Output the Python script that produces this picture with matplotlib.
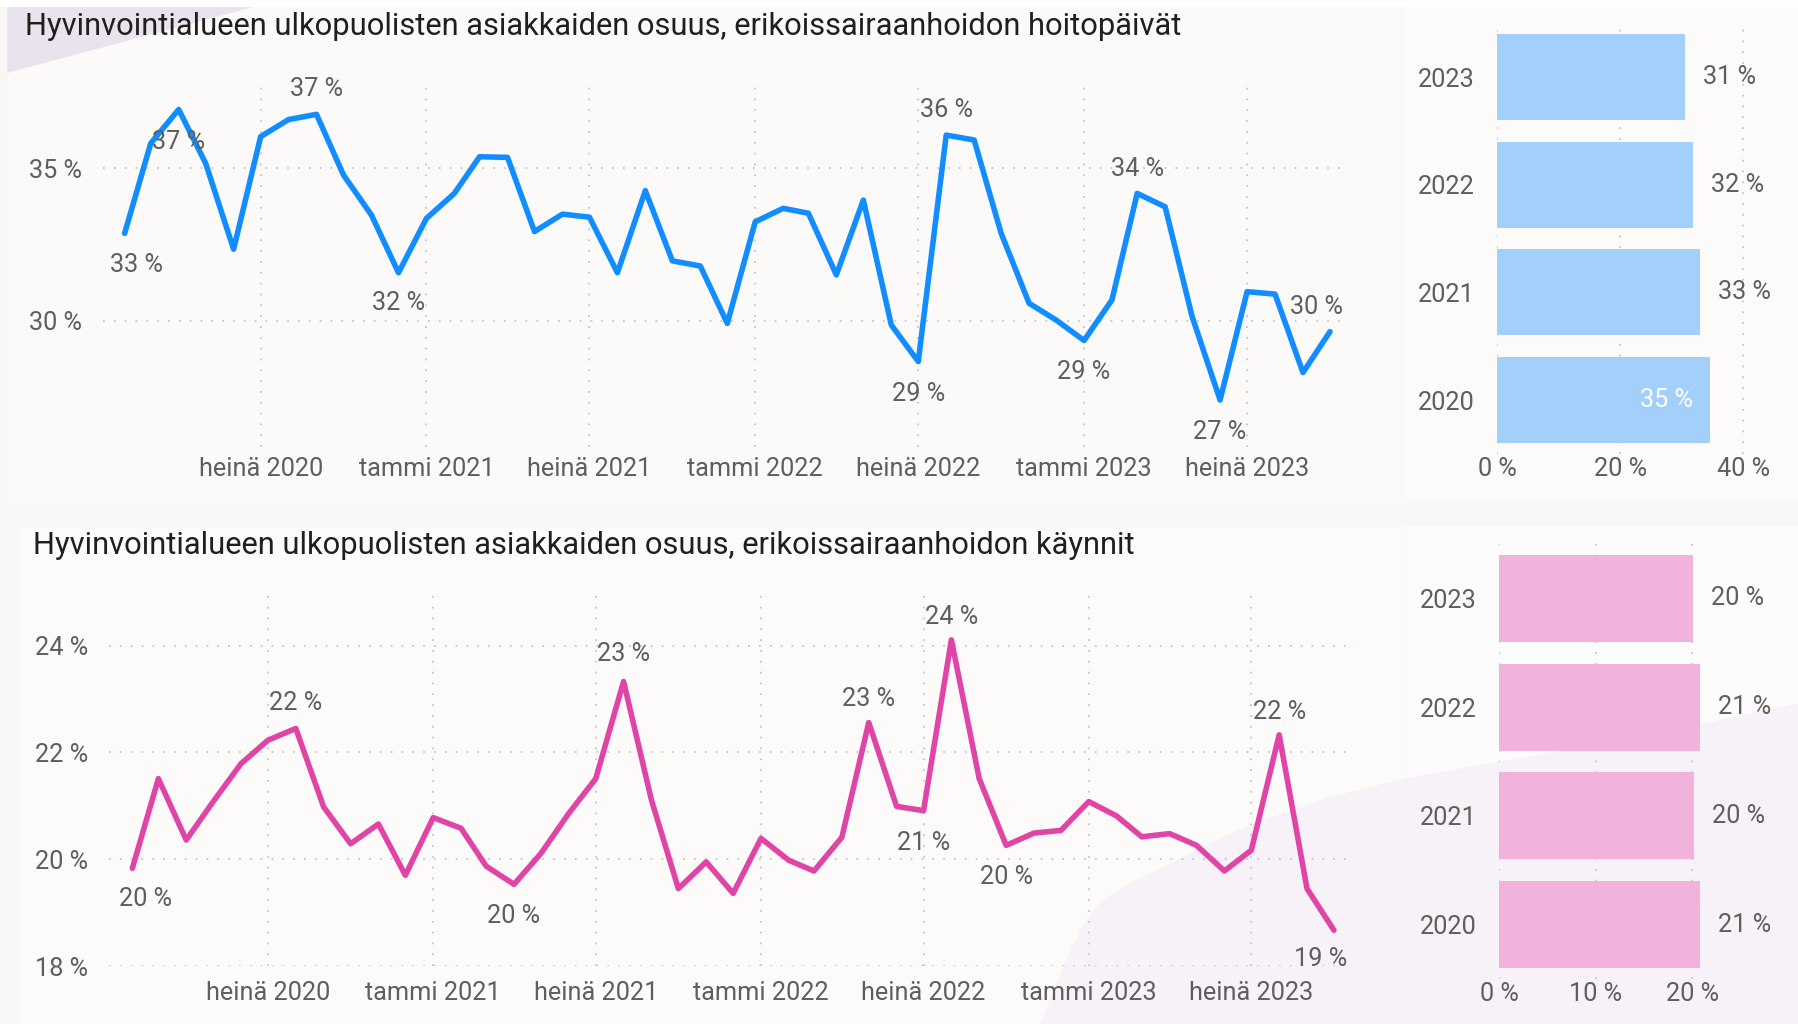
import matplotlib
matplotlib.use('Agg')
import matplotlib.pyplot as plt
from matplotlib.patches import Rectangle, Polygon
import pandas as pd

# ---------------- data ----------------
months = pd.date_range('2020-02-01', '2023-10-01', freq='MS')

hoitopaivat = [32.87, 35.82, 36.93, 35.16, 32.35, 36.04, 36.60, 36.77, 34.78, 33.47, 31.58,
               33.36, 34.18, 35.38, 35.36, 32.93, 33.50, 33.40, 31.58, 34.27, 31.97, 31.80, 29.92,
               33.25, 33.69, 33.53, 31.51, 33.96, 29.87, 28.67, 36.09, 35.93, 32.87, 30.58, 30.03,
               29.36, 30.69, 34.18, 33.74, 30.14, 27.41, 30.96, 30.88, 28.31, 29.65]

kaynnit = [19.83, 21.51, 20.36, 21.08, 21.79, 22.23, 22.45, 20.98, 20.29, 20.66, 19.70,
           20.78, 20.58, 19.87, 19.53, 20.11, 20.86, 21.51, 23.33, 21.11, 19.45, 19.95, 19.36,
           20.39, 19.98, 19.78, 20.41, 22.56, 20.99, 20.91, 24.11, 21.51, 20.26, 20.49, 20.54,
           21.08, 20.81, 20.42, 20.48, 20.26, 19.78, 20.17, 22.33, 19.45, 18.67]

years = ['2020', '2021', '2022', '2023']
hoitopaivat_year = [34.6, 33.0, 31.9, 30.6]
kaynnit_year = [20.76, 20.21, 20.76, 20.07]

tick_dates = ['2020-07-01', '2021-01-01', '2021-07-01', '2022-01-01',
              '2022-07-01', '2023-01-01', '2023-07-01']
tick_labels = ['heinä 2020', 'tammi 2021', 'heinä 2021', 'tammi 2022',
               'heinä 2022', 'tammi 2023', 'heinä 2023']

title_top = 'Hyvinvointialueen ulkopuolisten asiakkaiden osuus, erikoissairaanhoidon hoitopäivät'
title_bot = 'Hyvinvointialueen ulkopuolisten asiakkaiden osuus, erikoissairaanhoidon käynnit'

# label placement (index -> pixel offsets), styling only
top_labels = {0: (12, -32), 2: (0, -33), 7: (0, 25), 10: (0, -30), 29: (0, -32),
              30: (0, 25), 35: (0, -32), 37: (0, 24), 40: (0, -32), 44: (-13, 25)}
bot_labels = {0: (13, -31), 6: (0, 25), 14: (0, -32), 18: (0, 27), 27: (0, 24),
              29: (0, -32), 30: (0, 23), 32: (0, -32), 42: (0, 23), 44: (-13, -29)}

# ---------------- style ----------------
W, H = 1799, 1024
FONT = ['Roboto', 'DejaVu Sans']
plt.rcParams['font.family'] = FONT
GRAY = '#605E5C'
TITLE = '#201F1E'
GRID = '#C8C6C4'
BLUE = '#118DFF'
PINK = '#E044A7'
BLUE_BAR = '#A3D0FB'
PINK_BAR = '#F1B3DB'

fig = plt.figure(figsize=(W / 100, H / 100), dpi=100, facecolor='#F8F7F5')
renderer = fig.canvas.get_renderer()


def fit_size(text, width_px, ref=20):
    t = fig.text(0, 0, text, fontsize=ref)
    w = t.get_window_extent(renderer).width
    t.remove()
    return ref * width_px / w


def fx(x):
    return x / W


def fy(y):
    return 1 - y / H


def add_rect(x0, y0, x1, y1, color, z=-10):
    fig.add_artist(Rectangle((fx(x0), fy(y1)), fx(x1) - fx(x0), fy(y0) - fy(y1),
                             transform=fig.transFigure, facecolor=color,
                             edgecolor='none', zorder=z))


def add_poly(pts, color, z=-9):
    fig.add_artist(Polygon([(fx(x), fy(y)) for x, y in pts], closed=True,
                           transform=fig.transFigure, facecolor=color,
                           edgecolor='none', zorder=z))


# backgrounds / panels
add_rect(0, 0, W, 7, '#FFFFFF')
add_rect(7, 7, 1403, 503, '#FBFAF8')
add_rect(1404, 7, W, 503, '#FCFBFA')
add_rect(20, 527, 1406, H, '#FCFBFA')
add_rect(1407, 527, W, H, '#FDFCFC')
add_poly([(7, 7), (253, 7), (7, 73)], '#EAE3EE')
add_poly([(1040, 1024), (1052, 995), (1068, 955), (1085, 922), (1102, 900), (1135, 880),
          (1168, 865), (1210, 843), (1255, 823), (1330, 797), (1407, 778), (1509, 760),
          (1650, 735), (1799, 703), (1799, 1024)],
         '#F6F2F7')

tick_fs = fit_size('heinä 2020', 124)
fig.text(fx(25), fy(35), title_top, fontsize=fit_size(title_top, 1153), color=TITLE,
         va='baseline', ha='left')
fig.text(fx(33), fy(554), title_bot, fontsize=fit_size(title_bot, 1101), color=TITLE,
         va='baseline', ha='left')


def ax_px(l, t, r, b):
    ax = fig.add_axes([fx(l), fy(b), fx(r) - fx(l), fy(t) - fy(b)])
    ax.set_facecolor('none')
    for s in ax.spines.values():
        s.set_visible(False)
    ax.tick_params(length=0, labelsize=tick_fs, labelcolor=GRAY)
    return ax


dotted = dict(color=GRID, linestyle=(0, (1, 5)), linewidth=1.3)


def line_chart(ax, values, color, yticks, ylim, xlim, labels, xpad):
    ax.plot(months, values, color=color, linewidth=4.0, solid_joinstyle='round',
            solid_capstyle='round', zorder=3)
    ax.set_ylim(*ylim)
    ax.set_xlim(pd.Timestamp(xlim[0]), pd.Timestamp(xlim[1]))
    ax.set_yticks(yticks)
    ax.set_yticklabels([f'{v} %' for v in yticks])
    ax.set_xticks(pd.to_datetime(tick_dates))
    ax.set_xticklabels(tick_labels)
    ax.tick_params(axis='y', pad=15)
    ax.tick_params(axis='x', pad=xpad)
    ax.grid(True, **dotted)
    ax.set_axisbelow(True)
    for i, (dx, dy) in labels.items():
        ax.annotate(f'{round(values[i])} %', xy=(months[i], values[i]),
                    xytext=(dx, dy), textcoords='offset pixels', ha='center',
                    va='center', fontsize=tick_fs, color=GRAY, zorder=4)


ax1 = ax_px(103, 82, 1348, 447)
line_chart(ax1, hoitopaivat, BLUE, [30, 35], (25.87, 37.83),
           ('2020-01-08', '2023-10-21'), top_labels, 7)

ax2 = ax_px(109, 595, 1355.5, 966)
line_chart(ax2, kaynnit, PINK, [18, 20, 22, 24], (18, 24.95),
           ('2020-01-06', '2023-10-25'), bot_labels, 11)


def bar_chart(ax, values, color, xticks, xmax, inside):
    ax.barh(years, values, height=0.8, color=color, zorder=2)
    ax.set_ylim(-0.5, 3.5)
    ax.set_xlim(0, xmax)
    ax.set_xticks(xticks)
    ax.set_xticklabels([f'{v} %' for v in xticks])
    ax.tick_params(axis='y', pad=16)
    ax.tick_params(axis='x', pad=2)
    ax.grid(True, axis='x', **dotted)
    ax.set_axisbelow(True)
    for i, v in enumerate(values):
        if i in inside:
            ax.annotate(f'{round(v)} %', xy=(v, i), xytext=(-17, 0),
                        textcoords='offset pixels', ha='right', va='center',
                        fontsize=tick_fs, color='white', zorder=4)
        else:
            ax.annotate(f'{round(v)} %', xy=(v, i), xytext=(18, 0),
                        textcoords='offset pixels', ha='left', va='center',
                        fontsize=tick_fs, color=GRAY, zorder=4)


bx1 = ax_px(1497.3, 23.4, 1770, 453.8)
bar_chart(bx1, hoitopaivat_year, BLUE_BAR, [0, 20, 40], (1770 - 1497.3) / 6.15, {0})

bx2 = ax_px(1499.3, 544, 1760, 978.9)
bar_chart(bx2, kaynnit_year, PINK_BAR, [0, 10, 20], (1760 - 1499.3) / 9.65, set())

fig.savefig('out.png', dpi=100, facecolor=fig.get_facecolor())
